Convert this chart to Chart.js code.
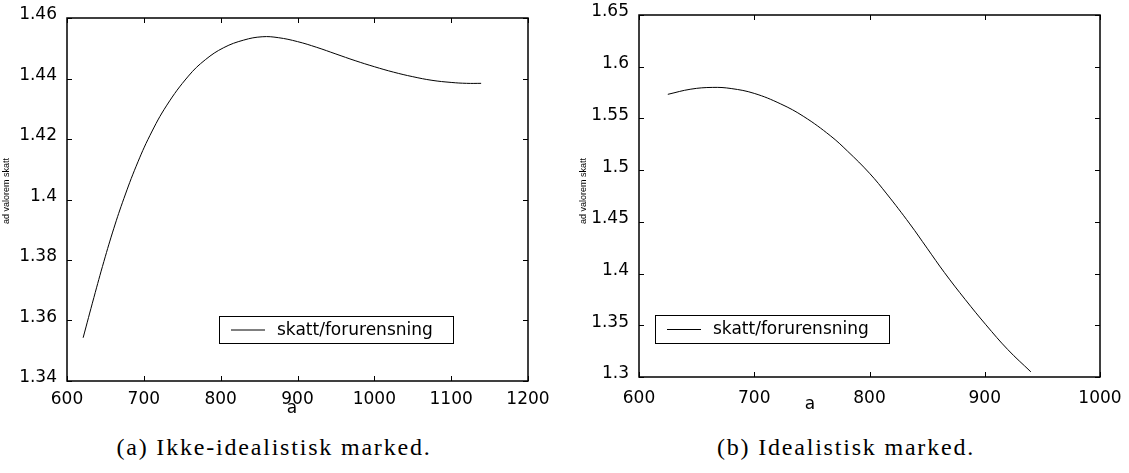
<!DOCTYPE html>
<html>
<head>
<meta charset="utf-8">
<script src="https://cdn.jsdelivr.net/npm/chart.js@4.4.1/dist/chart.umd.min.js"></script>
<style>
  body { margin: 0; background: #fff; width: 1129px; height: 473px; position: relative; overflow: hidden; }
  .panel { position: absolute; top: 0; height: 420px; }
  .caption { position: absolute; top: 434px; font-family: "Liberation Serif", "Times New Roman", serif; font-weight: 400;
             font-size: 24px; letter-spacing: 1.8px; white-space: nowrap; transform: translateX(-50%); color: #000; }
</style>
</head>
<body>
<div class="panel" style="left:0;width:560px"><canvas id="chartA"></canvas></div>
<div class="panel" style="left:560px;width:569px"><canvas id="chartB"></canvas></div>
<div class="caption" style="left:274px">(a) Ikke-idealistisk marked.</div>
<div class="caption" style="left:846px">(b) Idealistisk marked.</div>
<script>
// (a) ikke-idealistisk marked
const xA = [621, 635, 648, 661, 674, 690, 708, 730, 758, 780, 804, 830, 854, 875, 900, 925, 950, 975, 1000, 1025, 1050, 1075, 1100, 1120, 1139];
const yA = [1.3543, 1.3676, 1.3795, 1.3905, 1.4003, 1.4110, 1.4212, 1.4312, 1.4408, 1.4462, 1.4502, 1.4527, 1.4538,
            1.4535, 1.4522, 1.4503, 1.4481, 1.4459, 1.4439, 1.4421, 1.4406, 1.4394, 1.4387, 1.4384, 1.4384];
const xTicksA = [600, 700, 800, 900, 1000, 1100, 1200];
const yTicksA = [1.34, 1.36, 1.38, 1.40, 1.42, 1.44, 1.46];

// (b) idealistisk marked
const xB = [625, 645, 664, 680, 700, 723, 743, 766, 781, 800, 815, 835, 850, 865, 883, 901, 920, 940];
const yB = [1.5733, 1.5783, 1.5800, 1.5789, 1.5742, 1.5640, 1.5518, 1.5333, 1.5183, 1.4970, 1.4770, 1.4480,
            1.4245, 1.4010, 1.3750, 1.3505, 1.3265, 1.3050];
const xTicksB = [600, 700, 800, 900, 1000];
const yTicksB = [1.3, 1.35, 1.4, 1.45, 1.5, 1.55, 1.6, 1.65];

const seriesLabel = 'skatt/forurensning';
const xTitle = 'a';
const yTitle = 'ad valorem skatt';

const tickFont = { family: 'DejaVu Sans', size: 17 };

// matlab-like frame: box, inward ticks on all sides, legend box and axis titles
const framePlugin = {
    id: 'frame',
    afterDraw(chart, args, opts) {
        const ctx = chart.ctx;
        const a = chart.chartArea;
        const x = chart.scales.x, y = chart.scales.y;
        ctx.save();
        ctx.strokeStyle = '#000';
        ctx.lineWidth = 1;
        ctx.beginPath();
        x.ticks.forEach(t => {
            const px = Math.round(x.getPixelForValue(t.value)) + 0.5;
            ctx.moveTo(px, a.bottom); ctx.lineTo(px, a.bottom - 5);
            ctx.moveTo(px, a.top); ctx.lineTo(px, a.top + 5);
        });
        y.ticks.forEach(t => {
            const py = Math.round(y.getPixelForValue(t.value)) + 0.5;
            ctx.moveTo(a.left, py); ctx.lineTo(a.left + 5, py);
            ctx.moveTo(a.right, py); ctx.lineTo(a.right - 5, py);
        });
        ctx.stroke();
        ctx.lineWidth = 1.5;
        ctx.strokeRect(a.left, a.top, a.right - a.left, a.bottom - a.top);

        // legend
        const lg = opts.legend;
        ctx.fillStyle = '#fff';
        ctx.fillRect(lg.x, lg.y, lg.w, lg.h);
        ctx.lineWidth = 1;
        ctx.strokeRect(lg.x + 0.5, lg.y + 0.5, lg.w, lg.h);
        ctx.beginPath();
        ctx.moveTo(lg.x + 12, lg.y + lg.h / 2 + 0.5);
        ctx.lineTo(lg.x + 46, lg.y + lg.h / 2 + 0.5);
        ctx.stroke();
        ctx.fillStyle = '#000';
        ctx.font = '17px "DejaVu Sans"';
        ctx.textAlign = 'left';
        ctx.textBaseline = 'middle';
        ctx.fillText(chart.data.datasets[0].label, lg.x + 58, lg.y + lg.h / 2 + 1);

        // axis titles
        ctx.textAlign = 'center';
        ctx.fillText(xTitle, opts.xTitle.x, opts.xTitle.y);
        ctx.translate(opts.yTitle.x, opts.yTitle.y);
        ctx.rotate(-Math.PI / 2);
        ctx.font = '9px "Liberation Sans"';
        ctx.fillText(yTitle, 0, 0);
        ctx.restore();
    }
};

function buildChart(id, xs, ys, xTicks, yTicks, lay) {
    const ctx = document.getElementById(id).getContext('2d');
    const points = xs.map((v, i) => ({ x: v, y: ys[i] }));

    return new Chart(ctx, {
        type: 'line',
        data: {
            datasets: [{
                label: seriesLabel,
                data: points,
                borderColor: '#000',
                borderWidth: 1,
                pointRadius: 0,
                fill: false,
                tension: 0.4
            }]
        },
        options: {
            responsive: true,
            maintainAspectRatio: false,
            animation: false,
            layout: { padding: { top: lay.top, right: lay.right, left: 0, bottom: 0 } },
            plugins: {
                legend: { display: false },
                tooltip: { enabled: false },
                frame: lay
            },
            scales: {
                x: {
                    type: 'linear',
                    min: xTicks[0],
                    max: xTicks[xTicks.length - 1],
                    grid: { display: false },
                    border: { display: false },
                    afterBuildTicks: s => { s.ticks = xTicks.map(v => ({ value: v })); },
                    afterFit: s => { s.height = lay.xHeight; s.paddingLeft = 0; s.paddingRight = 0; },
                    ticks: {
                        autoSkip: false,
                        maxRotation: 0,
                        color: '#000',
                        font: tickFont,
                        padding: lay.xPad,
                        callback: v => String(+v.toFixed(2))
                    }
                },
                y: {
                    type: 'linear',
                    min: yTicks[0],
                    max: yTicks[yTicks.length - 1],
                    grid: { display: false },
                    border: { display: false },
                    afterBuildTicks: s => { s.ticks = yTicks.map(v => ({ value: v })); },
                    afterFit: s => { s.width = lay.yWidth; s.paddingTop = 0; s.paddingBottom = 0; },
                    ticks: {
                        autoSkip: false,
                        color: '#000',
                        font: tickFont,
                        padding: 2,
                        labelOffset: -3,
                        callback: v => String(+v.toFixed(2))
                    }
                }
            }
        },
        plugins: [framePlugin]
    });
}

buildChart('chartA', xA, yA, xTicksA, yTicksA, {
    top: 18, right: 32, xHeight: 39, yWidth: 67, xPad: 0,
    legend: { x: 219, y: 316, w: 234, h: 27 },
    xTitle: { x: 292, y: 409 },
    yTitle: { x: 7, y: 191 }
});

buildChart('chartB', xB, yB, xTicksB, yTicksB, {
    top: 15, right: 29, xHeight: 43, yWidth: 79, xPad: 3,
    legend: { x: 95, y: 315, w: 234, h: 28 },
    xTitle: { x: 250, y: 405 },
    yTitle: { x: 24, y: 191 }
});
</script>
</body>
</html>
